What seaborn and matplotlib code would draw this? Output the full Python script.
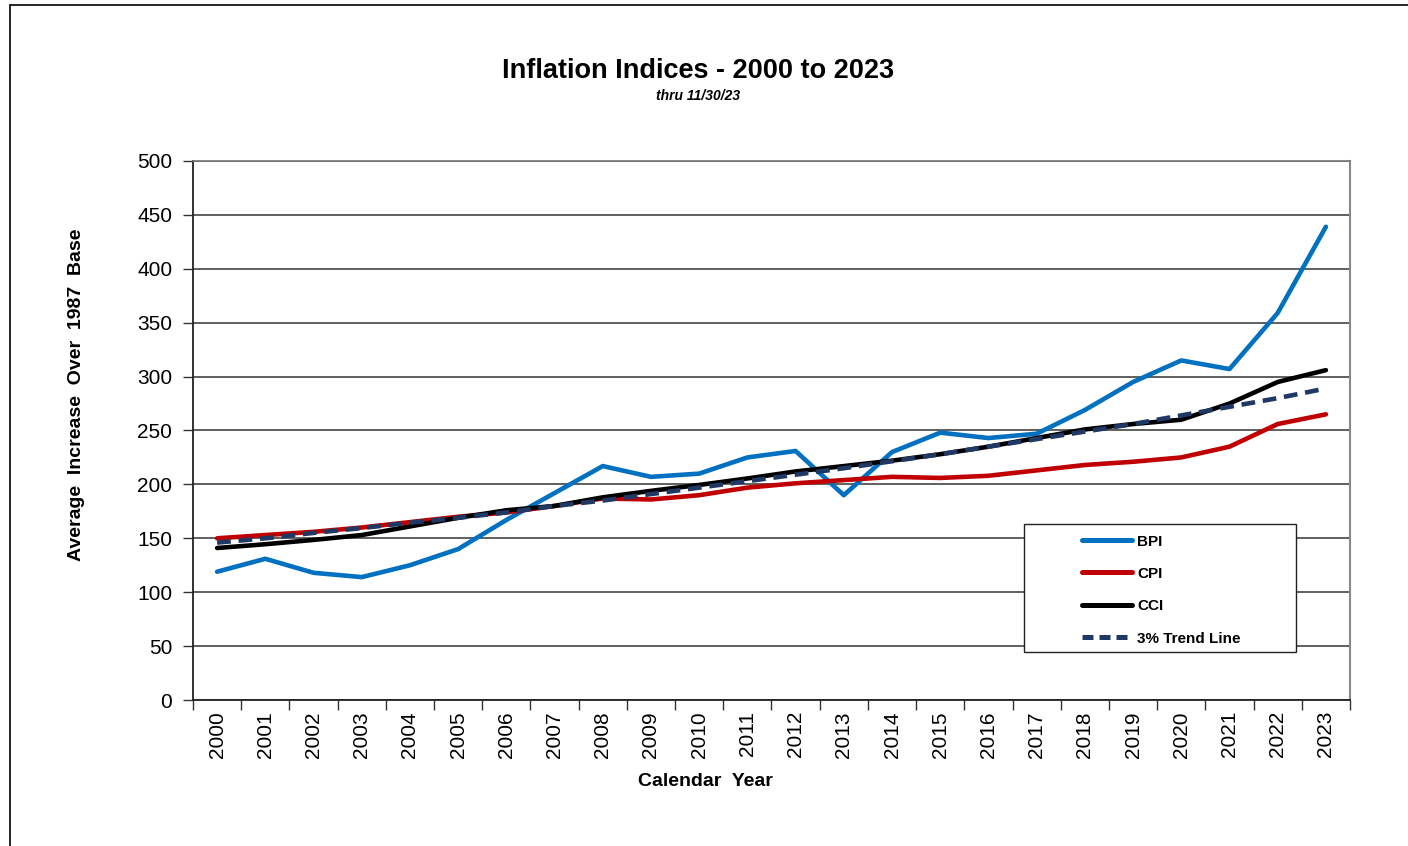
import matplotlib
matplotlib.use("Agg")
import matplotlib.pyplot as plt
import seaborn as sns
import pandas as pd
from matplotlib.lines import Line2D
from matplotlib.patches import Rectangle

years = [str(y) for y in range(2000, 2024)]
bpi = [119, 131, 118, 114, 125, 140, 167, 192, 217, 207, 210, 225, 231, 190, 230, 248, 243, 247, 269, 295, 315, 307, 359, 439]
cpi = [150, 153, 156, 160, 165, 170, 174, 180, 187, 186, 190, 197, 201, 204, 207, 206, 208, 213, 218, 221, 225, 235, 256, 265]
cci = [141, 144.5, 148.5, 153, 161, 169, 176, 180, 188, 194, 199.5, 205.5, 212, 217, 222, 228, 235, 243, 251, 256, 260, 275, 295, 306]
trend = [146, 150, 155, 159.5, 164.5, 169, 174, 180, 185, 191, 197, 203, 209, 215, 221.5, 228, 235, 242, 249, 256, 264, 272, 280, 289]
series_names = ["BPI", "CPI", "CCI", "3% Trend Line"]
colors = ["#0070C0", "#C00000", "#000000", "#1F3864"]

df = pd.DataFrame({"Year": years, "BPI": bpi, "CPI": cpi, "CCI": cci, "3% Trend Line": trend})
df["x"] = range(len(years))
long = df.melt(id_vars=["Year", "x"], value_vars=series_names, var_name="Series", value_name="Value")

sns.set_theme(style="white")
plt.rcParams["font.family"] = ["Liberation Sans", "DejaVu Sans"]
plt.rcParams["text.color"] = "black"
plt.rcParams["axes.labelcolor"] = "black"
plt.rcParams["xtick.color"] = "black"
plt.rcParams["ytick.color"] = "black"

W, H = 1408, 846
fig = plt.figure(figsize=(W / 100, H / 100), dpi=100)
ax = fig.add_axes([193/W, 1-700/H, (1350-193)/W, (700-161)/H])

for name, col in zip(series_names, colors):
    sub = long[long["Series"] == name]
    sns.lineplot(data=sub, x="x", y="Value", ax=ax, color=col, linewidth=3.3,
                 dashes=False, legend=False, solid_capstyle="round", zorder=3)
trend_line = ax.lines[-1]
trend_line.set_dashes([3.0, 1.7])
trend_line.set_dash_capstyle("butt")

ax.set_xlim(-0.5, len(years) - 0.5)
ax.set_ylim(0, 500)
ax.set_yticks(range(0, 501, 50))
ax.yaxis.grid(True, color="#444444", linewidth=1.2)
ax.xaxis.grid(False)
ax.set_axisbelow(True)

ax.set_xticks([i - 0.5 for i in range(len(years) + 1)], minor=False)
ax.set_xticklabels([])
ax.set_xticks(range(len(years)), minor=True)
ax.set_xticklabels(years, minor=True, rotation=90, fontsize=15)
ax.tick_params(axis="x", which="major", direction="out", length=7, width=1, color="#333333", bottom=True)
ax.tick_params(axis="x", which="minor", length=0, pad=8)
ax.tick_params(axis="y", direction="out", length=7, width=1, color="#333333", left=True, labelsize=15, pad=8)

for side in ["left", "bottom"]:
    ax.spines[side].set_color("#222222")
    ax.spines[side].set_linewidth(1.3)
ax.spines["right"].set_color("#888888")
ax.spines["right"].set_linewidth(1.5)
ax.spines["top"].set_color("#777777")
ax.spines["top"].set_linewidth(1.2)
for s in ax.spines.values():
    s.set_visible(True)

ax.set_xlabel("Calendar  Year", fontsize=14, fontweight="bold")
ax.xaxis.set_label_coords((705-193)/(1350-193), (700-781)/539)
ax.xaxis.label.set_va("center")
ax.set_ylabel("Average  Increase  Over  1987  Base", fontsize=14, fontweight="bold")
ax.yaxis.set_label_coords((77-193)/(1350-193), (700-395)/539)
ax.yaxis.label.set_va("center")

fig.text(698/W, 1-71/H, "Inflation Indices - 2000 to 2023", ha="center", va="center",
         fontsize=19.5, fontweight="bold")
fig.text(698/W, 1-96/H, "thru 11/30/23", ha="center", va="center",
         fontsize=10, fontweight="bold", style="italic")

# legend box
fig.add_artist(Rectangle((1024/W, 1-652/H), (1296-1024)/W, (652-524)/H, transform=fig.transFigure,
                         facecolor="white", edgecolor="#222222", linewidth=1.0, zorder=4))
handles = [Line2D([0], [0], color=c, linewidth=3.6) for c in colors]
handles[-1].set_dashes([2.2, 1.2])
handles[-1].set_dash_capstyle("butt")
leg = fig.legend(handles, series_names, loc="center left", bbox_to_anchor=(1082/W, 1-590/H),
                 frameon=False, prop={"weight": "bold", "size": 11},
                 handlelength=3.27, labelspacing=1.2, borderpad=0, handletextpad=0.35, borderaxespad=0)
leg.set_zorder(5)

# figure border lines (left and top)
fig.add_artist(Line2D([10/W, 10/W], [0, 1-5/H], transform=fig.transFigure, color="black", linewidth=1.2))
fig.add_artist(Line2D([10/W, 1], [1-5/H, 1-5/H], transform=fig.transFigure, color="black", linewidth=1.2))

fig.savefig("out.png", dpi=100)
